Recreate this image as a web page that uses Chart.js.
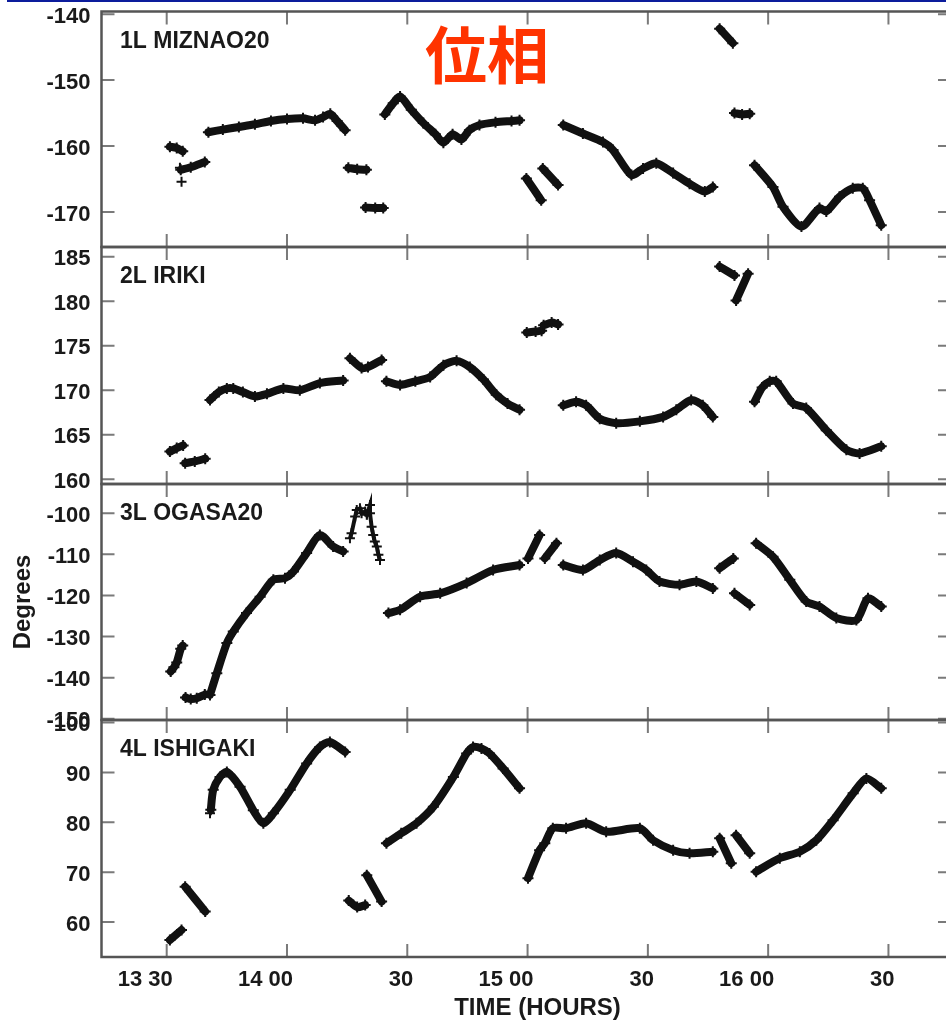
<!DOCTYPE html>
<html>
<head>
<meta charset="utf-8">
<script src="https://cdn.jsdelivr.net/npm/chart.js"></script>
<style>
  html, body { margin: 0; padding: 0; background: #fff; }
  body { width: 946px; height: 1020px; overflow: hidden; position: relative; }
  canvas { position: absolute; left: 0; }
  #topbar { position: absolute; left: 7px; top: 0; width: 939px; height: 2px; background: #0c1c9c; }
  #title { position: absolute; left: 425px; top: 21px; font: bold 62px "Noto Sans CJK JP", "Noto Sans CJK SC", sans-serif; line-height: 62px; color: #ff3300; }
  #xtitle { position: absolute; left: 537.5px; top: 995px; transform: translateX(-50%); font: bold 24px "Liberation Sans", Arial, sans-serif; line-height: 24px; color: #1a1a1a; white-space: nowrap; }
</style>
</head>
<body>
<div id="topbar"></div>
<canvas id="c1" width="960" height="263" style="top:0px"></canvas>
<canvas id="c2" width="960" height="269" style="top:231px"></canvas>
<canvas id="c3" width="960" height="268" style="top:468px"></canvas>
<canvas id="c4" width="960" height="316" style="top:704px"></canvas>
<div id="title">位相</div>
<div id="xtitle">TIME (HOURS)</div>
<script>
// temps en minutes après 13 h 00 ; null = coupure entre deux morceaux de trace
const timeTicks = [30, 60, 90, 120, 150, 180, 210];
const timeLabels = ['13 30', '14 00', '30', '15 00', '30', '16 00', '30'];

const p1Ticks = [-170, -160, -150, -140];
const p2Ticks = [160, 165, 170, 175, 180, 185];
const p3Ticks = [-150, -140, -130, -120, -110, -100];
const p4Ticks = [60, 70, 80, 90, 100];

// 1L MIZNAO20
const p1Time = [30.8, 32.5, 34.0, null,
  33.5, 36, 39.5, null,
  40.4, 44, 48, 52, 56, 60, 64, 67, 69, 70.8, 72.5, 74.5, null,
  75.3, 77.5, 79.8, null,
  79.6, 82, 84, null,
  84.4, 86.5, 88.2, 91, 94, 97, 99, 101.3, 103.5, 105.5, 108, 112, 116, 118, null,
  119.7, 123.4, null,
  123.8, 127.6, null,
  128.9, 133.8, 138.8, 141.3, 145.9, 148.8, 152.1, 156.3, 160.4, 164.2, 166.2, null,
  167.9, 171.2, null,
  171.6, 173.5, 175.4, null,
  176.6, 181.2, 183.7, 188.3, 192.8, 194.5, 197.8, 201.1, 203.6, 205.3, 208.2];
const p1Deg = [-160.1, -160.3, -160.8, null,
  -163.6, -163.2, -162.4, null,
  -157.9, -157.5, -157.1, -156.7, -156.2, -155.9, -155.8, -156.1, -155.6, -155.1, -156.2, -157.6, null,
  -163.3, -163.5, -163.6, null,
  -169.3, -169.4, -169.4, null,
  -155.2, -153.5, -152.5, -154.5, -156.5, -158.2, -159.5, -158.2, -159.0, -157.6, -156.8, -156.4, -156.2, -156.1, null,
  -164.9, -168.2, null,
  -163.4, -165.9, null,
  -156.8, -158.1, -159.4, -160.6, -164.4, -163.4, -162.6, -164.1, -165.7, -166.9, -166.2, null,
  -142.2, -144.4, null,
  -155.0, -155.2, -155.1, null,
  -162.9, -166.2, -169.2, -172.2, -169.4, -169.9, -167.7, -166.4, -166.4, -168.2, -172.0];
const p1CrossTime = [33.7, 33.3];
const p1CrossDeg = [-165.4, -163.3];

// 2L IRIKI
const p2Time = [30.8, 32.5, 34.1, null,
  34.6, 37, 39.6, null,
  40.8, 43, 45.0, 46.6, 49, 52.0, 55, 59.1, 63.2, 68.2, 74.0, null,
  75.7, 78.6, 80.2, 83.6, null,
  84.8, 88.2, 92, 95.7, 99.0, 102.3, 105.6, 109, 112.2, 115, 118.0, null,
  119.8, 122, 123.5, null,
  124, 126, 127.6, null,
  128.9, 132.1, 134.6, 138.0, 142.1, 148.0, 153.8, 157.1, 160.8, 163.7, 166.2, null,
  167.9, 171.6, null,
  172.0, 175.0, null,
  176.6, 178.5, 180.4, 182.0, 186.2, 189.5, 194.5, 199.5, 202.8, 208.2];
const p2Deg = [163.1, 163.5, 163.8, null,
  161.8, 162.0, 162.3, null,
  168.9, 169.8, 170.2, 170.2, 169.8, 169.3, 169.6, 170.2, 170.0, 170.8, 171.1, null,
  173.6, 172.5, 172.6, 173.4, null,
  171.0, 170.6, 171.0, 171.5, 172.8, 173.3, 172.6, 171.2, 169.5, 168.5, 167.8, null,
  176.5, 176.6, 176.7, null,
  177.3, 177.6, 177.4, null,
  168.3, 168.7, 168.3, 166.8, 166.3, 166.5, 167.0, 167.8, 168.9, 168.3, 167.0, null,
  183.9, 182.9, null,
  180.1, 183.1, null,
  168.7, 170.3, 171.0, 171.0, 168.5, 168.0, 165.5, 163.3, 162.9, 163.7];
const p2CrossTime = [];
const p2CrossDeg = [];

// 3L OGASA20
const p3Time = [31.0, 31.8, 32.5, 33.5, 34.0, null,
  34.7, 36, 37.5, 39.5, null,
  40.8, 42.5, 45.0, 46.6, 49.9, 53.3, 56.6, 59.5, 61.6, 64.9, 68.2, 71.5, 74.0, null,
  85.3, 88.2, 93.2, 98.2, 104.8, 111.4, 118.0, null,
  120.1, 123.0, null,
  124.3, 127.2, null,
  128.9, 133.8, 138.0, 142.1, 146.3, 149.6, 152.9, 157.9, 162.1, 166.2, null,
  167.9, 171.3, null,
  171.6, 175.4, null,
  177.0, 181.2, 185.4, 189.5, 192.8, 197.0, 202.0, 204.9, 208.2];
const p3Deg = [-138.5, -137.5, -136.3, -133.0, -132.2, null,
  -144.8, -145.2, -145.0, -144.1, null,
  -144.2, -138.9, -131.6, -128.8, -124.3, -120.3, -116.2, -115.8, -114.2, -109.7, -105.3, -108.1, -109.3, null,
  -124.3, -123.5, -120.3, -119.5, -117.0, -113.8, -112.6, null,
  -111.0, -105.3, null,
  -111.0, -107.3, null,
  -112.6, -113.8, -111.4, -109.7, -111.8, -113.8, -116.6, -117.4, -116.6, -118.3, null,
  -113.4, -111.0, null,
  -119.5, -122.3, null,
  -107.3, -110.6, -116.2, -121.5, -122.7, -125.5, -126.0, -120.7, -122.7];
const p3CrossTime = [75.7, 76.1, 77.0, 77.4, 78.2, 78.6, 79.5, 79.9, 80.7, 80.7, 81.1, 81.5, 81.9, 82.4, 82.8, 83.2];
const p3CrossDeg = [-106.1, -104.9, -100.8, -99.2, -98.8, -100.0, -99.6, -100.4, -98.0, -100.0, -103.3, -105.3, -106.9, -108.1, -110.1, -111.4];

// 4L ISHIGAKI
const p4Time = [30.8, 33.7, null,
  34.6, 39.6, null,
  41.0, 41.6, 43.3, 45.0, 48.3, 51.6, 54.1, 56.6, 60.8, 64.9, 68.2, 70.7, 74.5, null,
  75.4, 77.5, 79.5, null,
  79.9, 83.6, null,
  84.8, 88.5, 92.3, 96.5, 101.5, 104.8, 106.4, 108.5, 110.5, 113.9, 118.0, null,
  120.1, 123.0, 124.3, 126.3, 129.6, 134.6, 139.6, 148.0, 151.3, 156.3, 160.4, 166.2, null,
  167.9, 170.8, null,
  172.0, 175.4, null,
  177.0, 182.9, 187.9, 192.0, 196.2, 201.2, 204.5, 208.2];
const p4Deg = [56.4, 58.4, null,
  67.1, 62.1, null,
  82.5, 86.5, 89.1, 90.1, 87.1, 82.4, 79.8, 81.8, 86.5, 91.8, 95.1, 96.1, 94.1, null,
  64.3, 63.0, 63.4, null,
  69.4, 64.1, null,
  75.8, 77.8, 79.8, 83.1, 89.1, 93.8, 95.1, 94.8, 93.8, 90.8, 86.8, null,
  68.8, 74.4, 75.8, 78.8, 78.8, 79.8, 78.1, 78.8, 76.4, 74.4, 73.8, 74.1, null,
  76.8, 71.8, null,
  77.4, 73.8, null,
  70.1, 72.8, 74.1, 76.4, 80.4, 85.8, 88.8, 86.8];
const p4CrossTime = [40.8];
const p4CrossDeg = [81.8];

const INK = '#111';
const TEXT = '#1a1a1a';
const tickFont = { family: 'Liberation Sans', size: 22, weight: 'bold' };

// cadre du panneau + graduations vers l'intérieur + nom de la station
const framePlugin = {
  id: 'frame',
  afterDraw(chart, args, opts) {
    const { ctx, chartArea: a, scales: { x, y } } = chart;
    ctx.save();
    ctx.strokeStyle = '#7a7a7a';
    ctx.lineWidth = 2;
    ctx.beginPath();
    x.ticks.forEach(t => {
      const px = x.getPixelForValue(t.value);
      ctx.moveTo(px, a.top); ctx.lineTo(px, a.top + 13);
      ctx.moveTo(px, a.bottom); ctx.lineTo(px, a.bottom - 13);
    });
    y.ticks.forEach(t => {
      const py = y.getPixelForValue(t.value);
      ctx.moveTo(a.left, py); ctx.lineTo(a.left + 13, py);
      ctx.moveTo(a.right, py); ctx.lineTo(a.right - 13, py);
    });
    ctx.stroke();
    ctx.strokeStyle = '#555';
    ctx.lineWidth = 2.5;
    ctx.strokeRect(a.left, a.top, a.right - a.left, a.bottom - a.top);
    ctx.fillStyle = TEXT;
    ctx.font = 'bold 23px "Liberation Sans"';
    ctx.textBaseline = 'middle';
    ctx.fillText(opts.label, a.left + 18.5, a.top + 30);
    ctx.restore();
  }
};

function toPoints(ts, vs) {
  return ts.map((t, i) => ({ x: t, y: vs[i] }));
}

function noLabelPadding(s) {
  s.paddingTop = 0; s.paddingBottom = 0; s.paddingLeft = 0; s.paddingRight = 0;
}

function makePanel(id, p) {
  const ctx = document.getElementById(id).getContext('2d');
  return new Chart(ctx, {
    type: 'scatter',
    data: {
      datasets: [
        {
          data: toPoints(p.time, p.deg),
          showLine: true,
          spanGaps: false,
          borderColor: INK,
          backgroundColor: INK,
          borderWidth: 8,
          borderCapStyle: 'round',
          borderJoinStyle: 'round',
          tension: 0.25,
          pointStyle: 'cross',
          pointRadius: 5.5,
          pointBorderWidth: 2
        },
        {
          data: toPoints(p.crossT, p.crossD),
          showLine: p.crossLine,
          borderColor: INK,
          borderWidth: 4,
          pointStyle: 'cross',
          pointRadius: 5,
          pointBorderWidth: 2
        }
      ]
    },
    options: {
      responsive: false,
      animation: false,
      events: [],
      layout: { autoPadding: false, padding: { left: 0, right: 9, top: p.padTop, bottom: p.padBottom } },
      plugins: {
        legend: { display: false },
        tooltip: { enabled: false },
        frame: { label: p.label }
      },
      scales: {
        x: {
          type: 'linear',
          min: 13.74,
          max: 225.6,
          display: p.showX,
          grid: { display: false, drawTicks: false },
          border: { display: false },
          afterBuildTicks: s => { s.ticks = timeTicks.map(v => ({ value: v })); },
          afterFit: s => { noLabelPadding(s); if (p.showX) s.height = 63; },
          ticks: {
            autoSkip: false,
            maxRotation: 0,
            align: 'end',
            labelOffset: 6,
            padding: 10,
            color: TEXT,
            font: tickFont,
            callback: (v, i) => timeLabels[i]
          }
        },
        y: {
          min: p.min,
          max: p.max,
          grid: { display: false, drawTicks: false },
          border: { display: false },
          afterBuildTicks: s => { s.ticks = p.ticks.map(v => ({ value: v })); },
          afterFit: s => { noLabelPadding(s); s.width = 101.5; },
          ticks: { padding: 11, labelOffset: 2.5, color: TEXT, font: tickFont },
          title: {
            display: !!p.yTitle,
            text: p.yTitle || '',
            color: TEXT,
            font: { family: 'Liberation Sans', size: 24, weight: 'bold' },
            padding: { top: 9, bottom: 0 }
          }
        }
      }
    },
    plugins: [framePlugin]
  });
}

makePanel('c1', { label: '1L MIZNAO20', time: p1Time, deg: p1Deg, crossT: p1CrossTime, crossD: p1CrossDeg, crossLine: false,
  min: -175.3, max: -139.6, ticks: p1Ticks, padTop: 11.5, padBottom: 16, showX: false });
makePanel('c2', { label: '2L IRIKI', time: p2Time, deg: p2Deg, crossT: p2CrossTime, crossD: p2CrossDeg, crossLine: false,
  min: 159.46, max: 186.1, ticks: p2Ticks, padTop: 16, padBottom: 16, showX: false });
makePanel('c3', { label: '3L OGASA20', time: p3Time, deg: p3Deg, crossT: p3CrossTime, crossD: p3CrossDeg, crossLine: true,
  min: -150.3, max: -92.9, ticks: p3Ticks, padTop: 16, padBottom: 16, showX: false, yTitle: 'Degrees' });
makePanel('c4', { label: '4L ISHIGAKI', time: p4Time, deg: p4Deg, crossT: p4CrossTime, crossD: p4CrossDeg, crossLine: false,
  min: 53.0, max: 100.5, ticks: p4Ticks, padTop: 16, padBottom: 0, showX: true });
</script>
</body>
</html>
